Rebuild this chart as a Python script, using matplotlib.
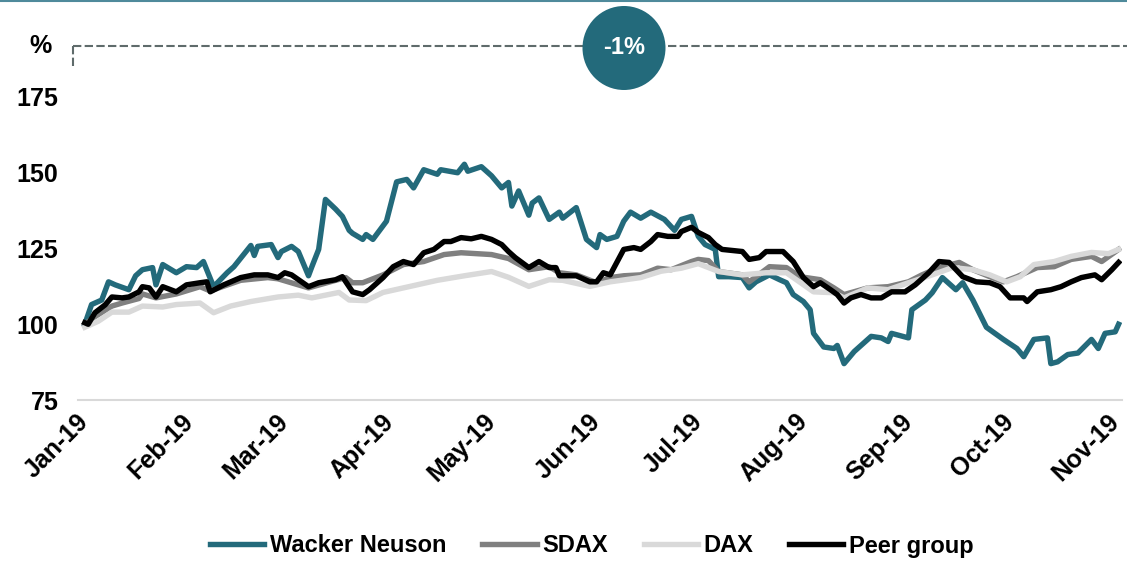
import numpy as np
import matplotlib.pyplot as plt
import matplotlib.dates as mdates
from matplotlib.lines import Line2D
from matplotlib.patches import Ellipse

plt.rcParams['font.family'] = ['Liberation Sans', 'DejaVu Sans']
plt.rcParams['font.weight'] = 'bold'

# share price index (start = 100), x = days after 2019-01-01
wn_days = [0, 2, 5, 7, 9, 13, 15, 17, 20, 21, 23, 27, 30, 33, 35, 38, 42, 44, 49, 50,
           51, 55, 57, 58, 61, 63, 66, 67, 69, 71, 74, 76, 78, 79, 82, 83, 85, 87, 89, 92,
           95, 97, 100, 104, 105, 110, 112, 113, 117, 120, 123, 125, 126, 128, 131, 132, 134, 137, 140, 141,
           145, 148, 151, 152, 154, 157, 159, 161, 164, 167, 171, 174, 176, 179, 181, 183, 186, 187, 190, 194,
           196, 198, 202, 205, 207, 209, 212, 214, 215, 218, 221, 222, 224, 227, 232, 235, 237, 238, 243, 244,
           248, 250, 253, 257, 259, 262, 266, 271, 275, 277, 280, 284, 285, 287, 290, 293, 297, 299, 301, 304, 305]
wn_vals = [100, 106.5, 108, 114, 113, 111.4, 116, 118, 118.7, 113, 119.7, 117, 119, 118.7, 120.7, 112.4, 117, 119, 126, 122.7,
           125.7, 126.3, 122, 124, 125.7, 124, 116, 119, 124.7, 141.2, 138, 135.6, 131, 130, 128, 129.6, 128, 131, 134, 147,
           147.8, 145, 151, 149.5, 151, 150, 152.8, 150.5, 152, 149, 145, 146.8, 139, 144, 136, 140, 141.7, 134.6, 137, 135,
           138.5, 128, 125.3, 129.6, 128, 129, 134, 137, 135, 137, 134.6, 131, 134.6, 135.6, 129, 126.3, 124.7, 115.7, 115.7, 115.4,
           112, 114, 116.3, 114.7, 113.7, 109.8, 107.5, 104.8, 97, 92.5, 92, 93, 87, 91, 96, 95.5, 94.3, 97, 95.5, 104.8,
           108, 110.4, 115.4, 111.4, 113.7, 108, 99, 95, 92, 89.3, 95, 95.5, 87, 87.6, 90, 90.5, 95, 92, 97, 97.5, 100]

sdax_days = [0, 3, 8, 11, 16, 17, 21, 27, 34, 37, 46, 54, 57, 66, 74, 77, 79, 82, 88, 94,
             100, 106, 111, 120, 125, 131, 137, 140, 145, 151, 155, 159, 164, 169, 173, 179, 181, 184, 187, 194,
             196, 202, 207, 211, 217, 221, 224, 231, 237, 243, 247, 252, 258, 262, 267, 271, 275, 281, 286, 291,
             297, 300, 305]
sdax_vals = [100, 102.5, 106, 107, 108.5, 110, 108.7, 110, 112.4, 111, 114.5, 115.4, 115, 112, 114.5, 115.4, 113.7, 113.7, 116.3, 119.7,
             120.7, 123, 123.6, 123, 121.7, 118, 119, 117, 116.3, 113.7, 115.4, 116, 116.3, 118.5, 118, 120.7, 121.4, 121, 117.4, 116.3,
             114, 119, 118.7, 115.7, 114.7, 112, 109.8, 112, 112.4, 114, 116.3, 118.7, 120.4, 118, 115.7, 114, 115.7, 118.7, 119, 121.4,
             122.4, 120.7, 124.7]

dax_days = [0, 4, 8, 13, 17, 23, 27, 34, 38, 43, 49, 57, 63, 67, 75, 78, 83, 88, 96, 104,
            112, 120, 125, 131, 137, 141, 149, 155, 164, 170, 176, 181, 187, 194, 201, 207, 215, 221, 224, 231,
            237, 243, 250, 256, 262, 267, 272, 276, 280, 286, 291, 297, 302, 305]
dax_vals = [99, 101, 104, 104, 106, 105.7, 106.5, 107, 103.8, 106, 107.5, 109, 109.6, 108.7, 110.5, 108, 107.8, 110.5, 112.5, 114.5,
            116, 117.4, 115.5, 112.5, 114.7, 114.5, 112.5, 114, 115.4, 117.5, 118.5, 120, 117.4, 116.3, 117, 117, 110.7, 110.4, 108.7, 112,
            111.4, 113.7, 116.3, 118.7, 118, 116.3, 114, 115.7, 119.7, 120.7, 122.4, 123.7, 123.3, 124.7]

peer_days = [0, 1, 3, 6, 8, 11, 13, 16, 17, 19, 21, 23, 27, 30, 34, 36, 37, 41, 46, 50,
             54, 57, 59, 61, 66, 69, 74, 76, 79, 82, 84, 88, 91, 94, 97, 100, 103, 106, 108, 111,
             114, 117, 120, 123, 125, 127, 131, 134, 137, 139, 140, 145, 149, 151, 153, 155, 159, 162, 164, 167,
             169, 172, 175, 176, 179, 181, 184, 186, 188, 194, 196, 199, 201, 206, 209, 212, 215, 217, 220, 222,
             224, 226, 229, 232, 235, 238, 242, 245, 249, 252, 255, 259, 263, 267, 270, 273, 277, 278, 281, 285,
             288, 291, 294, 298, 300, 303, 305]
peer_vals = [100.5, 100, 103.8, 106.4, 109, 108.7, 109, 110.7, 112.4, 112, 109, 112.4, 110.7, 113, 113.7, 114, 110.7, 113, 115.4, 116.3,
             116.3, 115.4, 117, 116.3, 112.4, 113.7, 114.7, 115.7, 110.7, 109.8, 111.4, 115.4, 119, 120.7, 119.7, 123.6, 124.7, 127.3, 127.3, 128.6,
             128.2, 129, 128, 126.3, 124, 122, 118.7, 120.7, 118.7, 118.7, 116, 116, 114, 114, 117, 116.3, 124.7, 125.3, 124.7, 127.3,
             129.6, 129, 129, 130.6, 132, 130.3, 128.6, 126.3, 124.7, 124, 121.4, 122, 124, 124, 120.7, 115.4, 112.4, 113.7, 111.4, 109.8,
             107, 108.7, 109.8, 108.7, 108.7, 110.7, 110.7, 113, 117, 120.7, 120.4, 115.7, 114, 113.7, 112.4, 108.7, 108.7, 107.5, 110.7, 111.4,
             112.4, 114, 115.4, 116.3, 114.7, 118, 120.4]

y_ticks = [75, 100, 125, 150, 175]
badge_text = "-1%"

start = np.datetime64('2019-01-01')


def to_dates(days):
    return start + np.array(days, dtype='timedelta64[D]')


W, H = 1127, 561
fig = plt.figure(figsize=(W / 100, H / 100), dpi=100)
ax = fig.add_axes([78 / W, 1 - 400 / H, 1044 / W, 303 / H])

teal = '#236a7b'
lw = 3.9
l1, = ax.plot(to_dates(wn_days), wn_vals, color=teal, lw=lw, solid_joinstyle='round')
l2, = ax.plot(to_dates(sdax_days), sdax_vals, color='#808080', lw=lw, solid_joinstyle='round')
l3, = ax.plot(to_dates(dax_days), dax_vals, color='#d9d9d9', lw=lw, solid_joinstyle='round')
l4, = ax.plot(to_dates(peer_days), peer_vals, color='black', lw=lw, solid_joinstyle='round')

ax.set_ylim(75, 175)
ax.set_yticks(y_ticks)
ax.set_xlim(start - np.timedelta64(2, 'D'), start + np.timedelta64(306, 'D'))
ax.xaxis.set_major_locator(mdates.MonthLocator())
ax.xaxis.set_major_formatter(mdates.DateFormatter('%b-%y'))
for s in ['top', 'right', 'left']:
    ax.spines[s].set_visible(False)
ax.spines['bottom'].set_color('#d9d9d9')
ax.spines['bottom'].set_linewidth(1.5)
ax.tick_params(axis='y', length=0, pad=14, labelsize=18)
ax.tick_params(axis='x', length=0, pad=13, labelsize=18)
for lab in ax.get_xticklabels():
    lab.set_rotation(45)
    lab.set_ha('right')
    lab.set_va('center')
    lab.set_rotation_mode('anchor')

fig.legend([l1, l2, l3, l4], ["Wacker Neuson", "SDAX", "DAX", "Peer group"],
           loc='center', bbox_to_anchor=(592 / W, 1 - 546 / H), ncol=4, frameon=False,
           fontsize=17, handlelength=2.3, handletextpad=0.25, columnspacing=1.5)

# header decoration
fig.add_artist(Line2D([0, 1], [1 - 1 / H, 1 - 1 / H], transform=fig.transFigure,
                      color='#4f8a9b', lw=1.5))
dash = dict(transform=fig.transFigure, color='#5f6b6b', lw=1.5, dashes=(4, 1.6))
fig.add_artist(Line2D([73 / W, 1], [1 - 46 / H, 1 - 46 / H], **dash))
fig.add_artist(Line2D([73 / W, 73 / W], [1 - 46 / H, 1 - 67 / H], **dash))
fig.add_artist(Ellipse((624 / W, 1 - 48 / H), 83 / W, 84 / H, transform=fig.transFigure,
                       facecolor=teal, edgecolor='none', zorder=5))
fig.text(624 / W, 1 - 48 / H, badge_text, color='white', fontsize=17, ha='center', va='center', zorder=6)
fig.text(40 / W, 1 - 46 / H, "%", fontsize=18, ha='center', va='center')

fig.savefig("out.png", dpi=100)
